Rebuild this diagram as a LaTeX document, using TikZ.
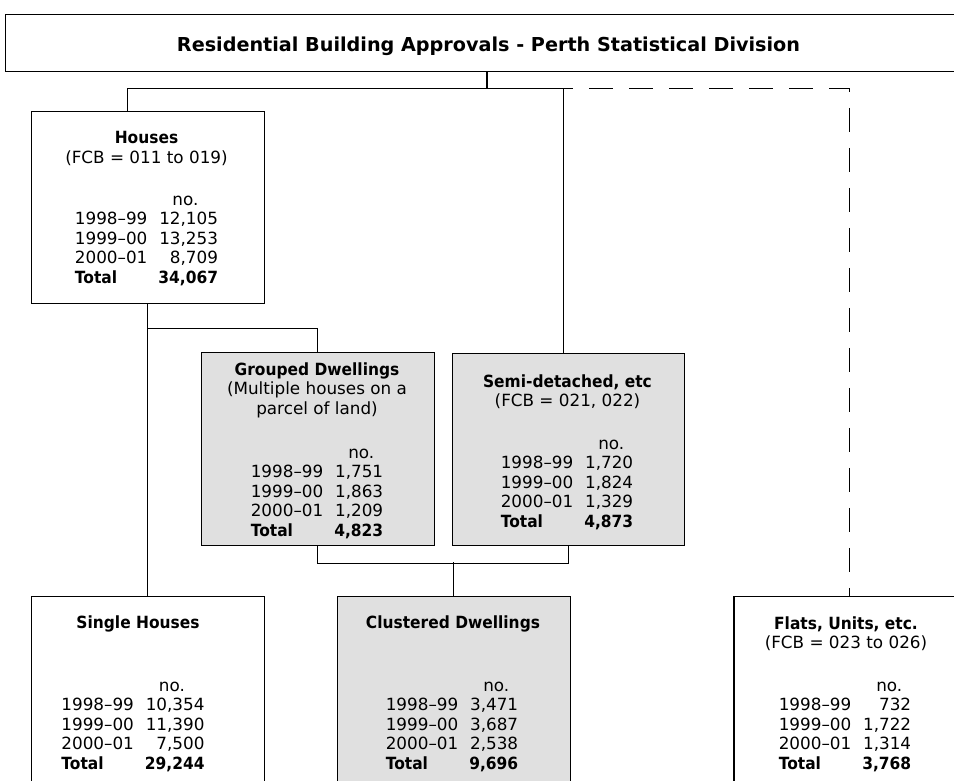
\documentclass[tikz,border=0pt]{standalone}
\usepackage{fontspec}
\setmainfont{DejaVu Sans}
\newfontfamily\headfont[FakeStretch=0.92]{DejaVu Sans}
\usepackage{tikz}

\newcommand{\hd}[1]{{\headfont\bfseries #1}}
\newcommand{\counts}[4]{\begin{tabular}[b]{@{}l@{\hspace{11pt}}r@{}}
 & \multicolumn{1}{l@{}}{\hspace{8pt}no.}\\
 1998--99 & #1\\
 1999--00 & #2\\
 2000--01 & #3\\
 \hd{Total} & \hd{#4}
\end{tabular}}

\begin{document}
\begin{tikzpicture}[x=1pt,y=-1pt,
  box/.style={draw,line width=1.2pt,anchor=north west,inner sep=0pt},
  shade/.style={box,fill=black!12},
  txt/.style={anchor=base,inner sep=0pt,font=\fontsize{16.8}{19.5}\selectfont},
  link/.style={line width=0.9pt}]
\useasboundingbox (0,0) rectangle (954,780);

\node[box,minimum width=966pt,minimum height=57pt] (T) at (5,14) {};
\node[txt,font=\fontsize{19.2}{23}\selectfont\bfseries] (Tt) at (488.5,51.7) {Residential Building Approvals - Perth Statistical Division};

\node[box,minimum width=233pt,minimum height=192pt] (H) at (30.5,110.5) {};
\node[shade,minimum width=232.5pt,minimum height=193pt] (G) at (201,352) {};
\node[shade,minimum width=231.5pt,minimum height=192pt] (S) at (452,353) {};
\node[box,minimum width=233pt,minimum height=200pt] (SH) at (30.5,595.5) {};
\node[shade,minimum width=232.5pt,minimum height=200pt] (C) at (337,595.5) {};
\node[box,minimum width=232pt,minimum height=200pt] (F) at (733.3,595.5) {};

\node[txt] (Hh) at (146.5,143.5) {\begin{tabular}[t]{@{}c@{}}\hd{Houses}\\(FCB = 011 to 019)\end{tabular}};
\node[txt] (Hn) at (146.5,283) {\counts{12,105}{13,253}{8,709}{34,067}};

\node[txt] (Gh) at (317,375) {\begin{tabular}[t]{@{}c@{}}\hd{Grouped Dwellings}\\(Multiple houses on a\\parcel of land)\end{tabular}};
\node[txt] (Gn) at (317,536) {\counts{1,751}{1,863}{1,209}{4,823}};

\node[txt] (Sh) at (567.5,387) {\begin{tabular}[t]{@{}c@{}}\hd{Semi-detached, etc}\\(FCB = 021, 022)\end{tabular}};
\node[txt] (Sn) at (567,527) {\counts{1,720}{1,824}{1,329}{4,873}};

\node[txt] (SHh) at (138,628) {\hd{Single Houses}};
\node[txt] (SHn) at (133,769) {\counts{10,354}{11,390}{7,500}{29,244}};

\node[txt] (Ch) at (453,628) {\hd{Clustered Dwellings}};
\node[txt] (Cn) at (452,769) {\counts{3,471}{3,687}{2,538}{9,696}};

\node[txt] (Fh) at (846,629) {\begin{tabular}[t]{@{}c@{}}\hd{Flats, Units, etc.}\\(FCB = 023 to 026)\end{tabular}};
\node[txt] (Fn) at (845,769) {\counts{732}{1,722}{1,314}{3,768}};

\coordinate (J) at (487,88.5);
\coordinate (K) at (453,562);

\draw[link,line width=1.8pt] (T.south -| J) -- (J);
\draw[link] (J) -| ([xshift=-20.5pt]H.north);
\draw[link] (J) -| ([xshift=-5pt]S.north);
\draw[link,dash pattern=on 24pt off 16pt,dash phase=17.7pt] (J) -| (F.north);
\draw[link] (H.south) -- (SH.north);
\draw[link] (H.south) -- ++(0,24.5) -| (G.north);
\draw[link] (G.south) -- ++(0,17) -| (S.south);
\draw[link] (C.north) -- (C.north |- K);
\end{tikzpicture}
\end{document}
